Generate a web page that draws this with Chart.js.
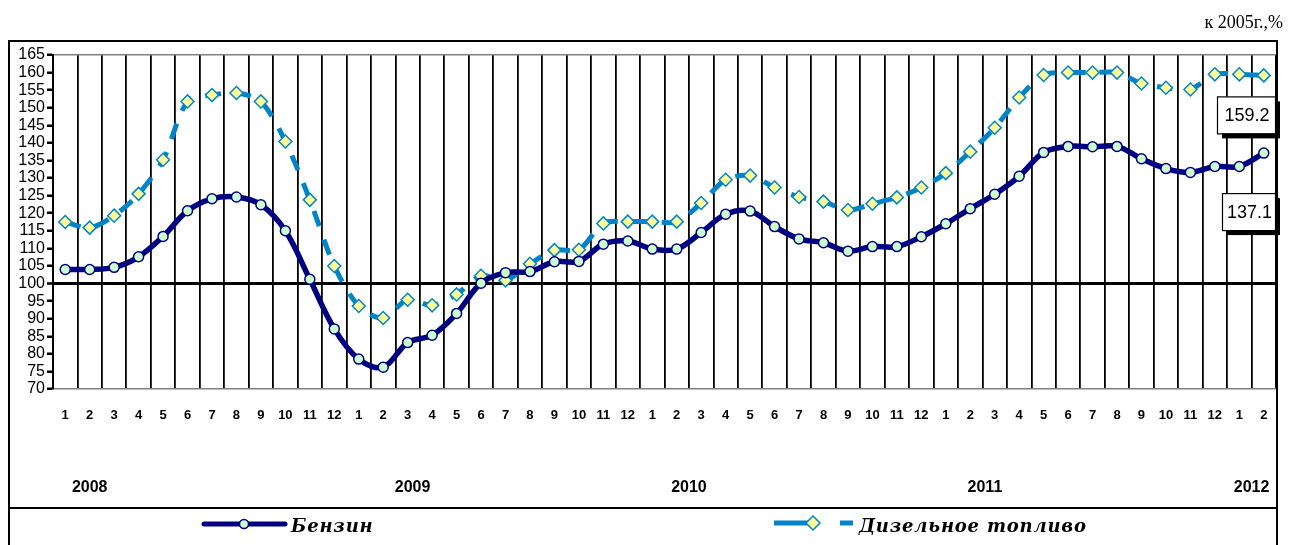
<!DOCTYPE html>
<html>
<head>
<meta charset="utf-8">
<script src="https://cdn.jsdelivr.net/npm/chart.js@4.4.1/dist/chart.umd.min.js"></script>
<style>
html,body{margin:0;padding:0;background:#fff;}
#wrap{position:relative;width:1291px;height:545px;}
</style>
</head>
<body>
<div id="wrap"><canvas id="c" width="1291" height="545"></canvas></div>
<script>
const monthLabels = ['1','2','3','4','5','6','7','8','9','10','11','12',
  '1','2','3','4','5','6','7','8','9','10','11','12',
  '1','2','3','4','5','6','7','8','9','10','11','12',
  '1','2','3','4','5','6','7','8','9','10','11','12',
  '1','2'];
const benzin = [104.0,104.0,104.6,107.6,113.4,120.7,124.1,124.6,122.4,115.0,101.2,87.1,
  78.5,76.2,83.2,85.3,91.5,100.1,103.1,103.4,106.2,106.3,111.2,112.1,
  109.8,109.8,114.5,119.7,120.6,116.2,112.7,111.6,109.2,110.5,110.5,113.3,
  117.0,121.3,125.4,130.5,137.3,139.0,138.9,139.0,135.5,132.7,131.6,133.3,
  133.3,137.1];
const diesel = [117.5,115.9,119.3,125.5,135.2,151.8,153.6,154.2,151.8,140.4,123.8,105.0,
  93.6,90.2,95.4,93.8,96.9,102.2,100.9,105.6,109.5,109.6,117.1,117.6,
  117.6,117.6,122.9,129.5,130.7,127.3,124.6,123.3,120.9,122.7,124.5,127.3,
  131.4,137.5,144.3,152.9,159.3,160.0,160.0,160.0,156.9,155.7,155.2,159.5,
  159.5,159.2];
const yearLabels = ['2008','2009','2010','2011','2012'];
const yearPos = [1, 14.2, 25.5, 37.6, 48.5];
const seriesNames = ['Бензин','Дизельное топливо'];
const unitText = 'к 2005г.,%';

const NAVY = '#000080';
const BLUE = '#0084c8';

const decor = {
  id: 'decor',
  afterDraw(chart) {
    const ctx = chart.ctx;
    const xs = chart.scales.x, ys = chart.scales.y;
    ctx.save();
    ctx.strokeStyle = '#000';
    ctx.lineWidth = 2;
    ctx.beginPath();
    ctx.moveTo(9, 546); ctx.lineTo(9, 41); ctx.lineTo(1277, 41); ctx.lineTo(1277, 546);
    ctx.stroke();
    ctx.beginPath();
    ctx.moveTo(9, 508); ctx.lineTo(1277, 508);
    ctx.stroke();
    ctx.fillStyle = '#000';
    ctx.font = '18px "Liberation Serif"';
    ctx.textAlign = 'right';
    ctx.textBaseline = 'alphabetic';
    ctx.fillText(unitText, 1283, 28);
    ctx.font = 'bold 16px "Liberation Sans"';
    ctx.textAlign = 'center';
    ctx.textBaseline = 'middle';
    yearLabels.forEach((t, i) => {
      ctx.fillText(t, xs.getPixelForValue(yearPos[i]), 488);
    });
    const lastI = benzin.length - 1;
    const boxes = [
      {v: diesel[lastI], y: ys.getPixelForValue(diesel[lastI]) + 21, x0: 1217},
      {v: benzin[lastI], y: ys.getPixelForValue(benzin[lastI]) + 40, x0: 1222}
    ];
    boxes.forEach(b => {
      const w = 1275 - b.x0, h = 37;
      ctx.fillStyle = '#000';
      ctx.fillRect(b.x0 + 5, b.y + 5, w, h);
      ctx.fillStyle = '#fff';
      ctx.fillRect(b.x0, b.y, w, h);
      ctx.strokeStyle = '#000';
      ctx.lineWidth = 1.2;
      ctx.strokeRect(b.x0 + 0.5, b.y + 0.5, w, h);
      ctx.fillStyle = '#000';
      ctx.font = '18px "Liberation Sans"';
      ctx.textAlign = 'center';
      ctx.textBaseline = 'middle';
      ctx.fillText(b.v.toFixed(1), b.x0 + w / 2 + 1, b.y + h / 2 + 1);
    });
    const ly = 524;
    ctx.strokeStyle = NAVY; ctx.lineWidth = 5; ctx.lineCap = 'round';
    ctx.beginPath(); ctx.moveTo(204, ly); ctx.lineTo(285, ly); ctx.stroke();
    ctx.lineCap = 'butt';
    ctx.beginPath(); ctx.arc(244, ly, 4.5, 0, Math.PI * 2);
    ctx.fillStyle = '#ccffcc'; ctx.fill();
    ctx.lineWidth = 1.5; ctx.strokeStyle = NAVY; ctx.stroke();
    ctx.strokeStyle = BLUE; ctx.lineWidth = 5;
    ctx.beginPath(); ctx.moveTo(774, ly - 1); ctx.lineTo(810, ly - 1); ctx.stroke();
    ctx.beginPath(); ctx.moveTo(840, ly - 1); ctx.lineTo(853, ly - 1); ctx.stroke();
    ctx.beginPath();
    ctx.moveTo(813, ly - 8); ctx.lineTo(820, ly - 1); ctx.lineTo(813, ly + 6); ctx.lineTo(806, ly - 1); ctx.closePath();
    ctx.fillStyle = '#ffff99'; ctx.fill();
    ctx.lineWidth = 1.5; ctx.strokeStyle = BLUE; ctx.stroke();
    ctx.fillStyle = '#000';
    ctx.font = 'bold italic 18px "DejaVu Serif"';
    ctx.textAlign = 'left';
    ctx.textBaseline = 'middle';
    try { ctx.letterSpacing = '0.8px'; } catch (e) {}
    ctx.fillText(seriesNames[0], 291, ly + 3);
    ctx.fillText(seriesNames[1], 859, ly + 3);
    ctx.restore();
  }
};

new Chart(document.getElementById('c'), {
  type: 'line',
  data: {
    labels: monthLabels,
    datasets: [
      {
        label: seriesNames[0],
        data: benzin,
        borderColor: NAVY,
        borderWidth: 5.5,
        tension: 0.35,
        pointStyle: 'circle',
        pointRadius: 5,
        pointBackgroundColor: '#ccffcc',
        pointBorderColor: NAVY,
        pointBorderWidth: 1.5
      },
      {
        label: seriesNames[1],
        data: diesel,
        borderColor: BLUE,
        borderWidth: 5,
        borderDash: [16, 14],
        tension: 0.3,
        pointStyle: 'rectRot',
        pointRadius: 6.5,
        pointBackgroundColor: '#ffff99',
        pointBorderColor: BLUE,
        pointBorderWidth: 1.5
      }
    ]
  },
  options: {
    responsive: false,
    animation: false,
    events: [],
    layout: { padding: { left: 0, right: 15, top: 55, bottom: 0 } },
    plugins: { legend: { display: false }, tooltip: { enabled: false } },
    scales: {
      x: {
        type: 'category',
        offset: true,
        afterFit(s) { s.height = 156; },
        grid: { offset: true, color: '#000', lineWidth: 1.8, drawTicks: false, drawOnChartArea: true },
        border: { display: false },
        ticks: { autoSkip: false, maxRotation: 0, minRotation: 0, color: '#000', padding: 19,
          font: { family: 'Liberation Sans', size: 13, weight: 'bold' } }
      },
      y: {
        min: 70, max: 165,
        afterFit(s) { s.width = 53; },
        grid: {
          drawOnChartArea: true,
          color: (c) => c.tick && c.tick.value === 100 ? '#000' : (c.tick && (c.tick.value === 165 || c.tick.value === 70) ? '#808080' : 'rgba(0,0,0,0)'),
          lineWidth: (c) => c.tick && c.tick.value === 100 ? 3 : 1.5,
          tickColor: '#000', tickLength: 6, tickWidth: 2.5
        },
        border: { display: true, color: '#000', width: 2 },
        ticks: { stepSize: 5, autoSkip: false, color: '#000', padding: 2,
          font: { family: 'Liberation Sans', size: 16 } }
      }
    }
  },
  plugins: [decor]
});
</script>
</body>
</html>
